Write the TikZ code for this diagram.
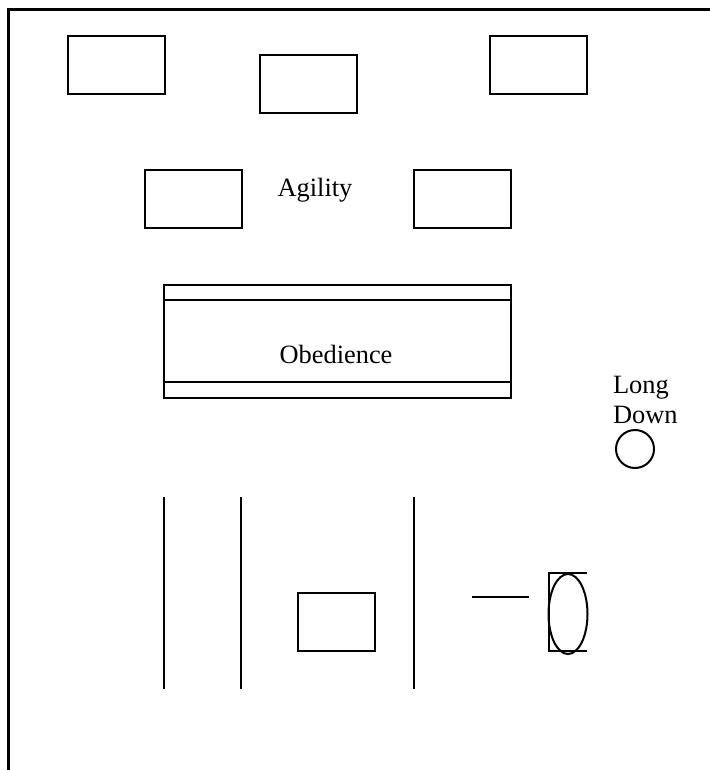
\documentclass[tikz,border=0pt]{standalone}
\usepackage{fontspec}
\setmainfont{Liberation Serif}
\usetikzlibrary{positioning}
\begin{document}
\begin{tikzpicture}[x=0.5pt,y=-0.5pt,line width=1pt,
  jump/.style={draw,minimum width=48.5pt,minimum height=29pt,inner sep=0pt},
  lbl/.style={font=\fontsize{13.2}{15}\selectfont,align=center,inner sep=0pt}]
  \useasboundingbox (0,0) rectangle (710,770);
  % ring border
  \draw[line width=1.5pt] (8.5,770)--(8.5,10)--(710,10);

  % agility jumps
  \node[jump] (jumpA) at (116.5,65) {};
  \node[jump] (jumpB) at (308.5,84) {};
  \node[jump] (jumpC) at (538.5,65) {};
  \node[jump] (jumpD) at (193.5,199.5) {};
  \node[jump] (jumpE) at (462.5,199.5) {};
  \node[lbl] (agility) at (315,190) {Agility};

  % obedience ring
  \node[draw,minimum width=173.5pt,minimum height=56.5pt,inner sep=0pt] (ring) at (337.5,341.5) {};
  \draw ([yshift=-8pt]ring.north west) -- ([yshift=-8pt]ring.north east);
  \draw ([yshift=8.5pt]ring.south west) -- ([yshift=8.5pt]ring.south east);
  \node[lbl] (obed) at (336,354) {Obedience};

  % long down
  \node[lbl,align=left,anchor=west] (longdown) at (612,400) {Long\\Down};
  \node[draw,circle,minimum size=19pt,inner sep=0pt] (spot) at (635,449) {};

  % poles
  \foreach \px in {164,241,414}
    \draw (\px,497) -- (\px,689);
  \node[draw,minimum width=38.5pt,minimum height=29pt,inner sep=0pt] (table) at (336.5,622) {};

  % tunnel
  \draw (472,597) -- (529,597);
  \draw (587,573) -- (548.5,573) -- (548.5,651) -- (587,651);
  \draw (568,614) ellipse [x radius=9.75pt,y radius=20pt];
\end{tikzpicture}
\end{document}
